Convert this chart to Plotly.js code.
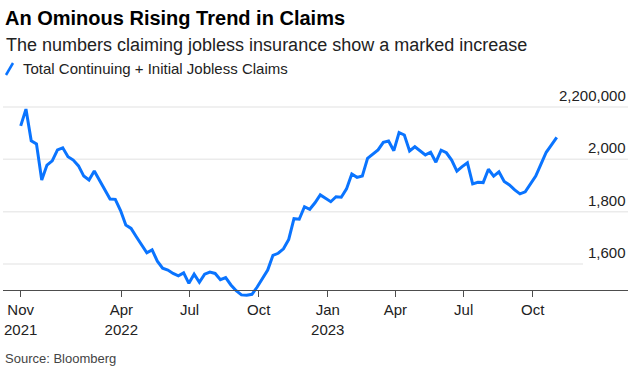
<!DOCTYPE html>
<html>
<head>
<meta charset="utf-8">
<script src="https://cdn.plot.ly/plotly-3.0.1.min.js"></script>
<style>html,body{margin:0;padding:0;background:#fff;}#chart{width:640px;height:378px;}</style>
</head>
<body>
<div id="chart"></div>
<script>
// ---- Data ----
const startDate = '2021-11-18';   // first weekly observation (Thursday)
const claims = [
  2128000, 2192000, 2071000, 2059000, 1921000, 1978000, 1994000, 2036000, 2044000, 2010000,
  1997000, 1975000, 1936000, 1921000, 1955000, 1921000, 1883000, 1848000, 1847000, 1804000,
  1749000, 1736000, 1704000, 1673000, 1643000, 1654000, 1611000, 1584000, 1577000, 1564000,
  1555000, 1566000, 1526000, 1561000, 1530000, 1561000, 1569000, 1564000, 1540000, 1548000,
  1520000, 1498000, 1482000, 1481000, 1484000, 1512000, 1543000, 1577000, 1633000, 1641000,
  1658000, 1694000, 1773000, 1771000, 1819000, 1809000, 1834000, 1864000, 1851000, 1838000,
  1857000, 1855000, 1887000, 1944000, 1931000, 1936000, 2004000, 2019000, 2036000, 2065000,
  2070000, 2033000, 2102000, 2093000, 2032000, 2048000, 2033000, 2017000, 2027000, 1989000,
  2035000, 2025000, 1997000, 1955000, 1972000, 1987000, 1906000, 1912000, 1911000, 1962000,
  1936000, 1952000, 1915000, 1902000, 1883000, 1868000, 1876000, 1908000, 1936000, 1982000,
  2027000, 2055000, 2084000
];
const seriesName = 'Total Continuing + Initial Jobless Claims';
const tickDates = ['2021-11-18','2022-04-01','2022-07-01','2022-10-01','2023-01-01','2023-04-01','2023-07-01','2023-10-01'];
const tickLabels = ['Nov<br>2021','Apr<br>2022','Jul','Oct','Jan<br>2023','Apr','Jul','Oct'];
const yTickVals = [1600000, 1800000, 2000000, 2200000];
const yTickLabels = ['1,600', '1,800', '2,000', '2,200,000'];
const titleText = 'An Ominous Rising Trend in Claims';
const subtitleText = 'The numbers claiming jobless insurance show a marked increase';
const sourceText = 'Source: Bloomberg';

// build weekly dates
const dates = [];
{
  const d0 = new Date(startDate + 'T00:00:00Z');
  for (let i = 0; i < claims.length; i++) {
    const d = new Date(d0.getTime() + i * 7 * 86400000);
    dates.push(d.toISOString().slice(0, 10));
  }
}

// ---- Layout geometry ----
const W = 640, H = 378;
const M = {l: 3, r: 12, t: 91, b: 77};
const plotW = W - M.l - M.r, plotH = H - M.t - M.b;
const yRange = [1458600, 2261100];
const axisVal = 1500000;
const px2paperX = px => (px - M.l) / plotW;
const px2paperY = py => (H - M.b - py) / plotH;
const FONT = 'Liberation Sans, Arial, sans-serif';
const BLUE = '#0a74ff';

const shapes = [];
yTickVals.forEach((v, i) => {
  shapes.push({type: 'line', xref: 'paper', yref: 'y', x0: 0, x1: (v === 1600000 ? px2paperX(583) : 1),
    y0: v, y1: v, line: {color: '#ebebeb', width: 1.5}, layer: 'below'});
});
// legend slash icon
shapes.push({type: 'line', xref: 'paper', yref: 'paper',
  x0: px2paperX(6), y0: px2paperY(75), x1: px2paperX(13), y1: px2paperY(63),
  line: {color: BLUE, width: 2.5}});

const annotations = [];
yTickVals.forEach((v, i) => {
  annotations.push({xref: 'paper', yref: 'y', x: 1, y: v, xanchor: 'right', yanchor: 'bottom',
    yshift: 1, text: yTickLabels[i], showarrow: false, font: {family: FONT, size: 15, color: '#222'}});
});
annotations.push({xref: 'paper', yref: 'paper', x: px2paperX(4), y: px2paperY(45), xanchor: 'left', yanchor: 'middle',
  text: subtitleText, showarrow: false, font: {family: FONT, size: 18, color: '#222'}});
annotations.push({xref: 'paper', yref: 'paper', x: px2paperX(21), y: px2paperY(69), xanchor: 'left', yanchor: 'middle',
  text: seriesName, showarrow: false, font: {family: FONT, size: 15, color: '#222'}});
annotations.push({xref: 'paper', yref: 'paper', x: px2paperX(3), y: px2paperY(358), xanchor: 'left', yanchor: 'middle',
  text: sourceText, showarrow: false, font: {family: FONT, size: 13, color: '#444'}});

const trace = {
  x: dates, y: claims, type: 'scatter', mode: 'lines', name: seriesName,
  line: {color: BLUE, width: 3}, hoverinfo: 'skip'
};

const layout = {
  width: W, height: H,
  margin: {l: M.l, r: M.r, t: M.t, b: M.b, pad: 0, autoexpand: false},
  paper_bgcolor: '#fff', plot_bgcolor: '#fff',
  showlegend: false,
  title: {text: '<b>' + titleText + '</b>', xref: 'container', yref: 'container',
    x: 5 / W, xanchor: 'left', y: 1 - 18 / H, yanchor: 'middle',
    font: {family: FONT, size: 20, color: '#000'}},
  xaxis: {
    type: 'date', range: ['2021-10-25 10:00', '2024-02-04 22:00'],
    anchor: 'free', position: (axisVal - yRange[0]) / (yRange[1] - yRange[0]),
    tickmode: 'array', tickvals: tickDates, ticktext: tickLabels,
    showline: true, linecolor: '#4d4d4d', linewidth: 1.3,
    ticks: 'outside', ticklen: 6, tickwidth: 1.3, tickcolor: '#4d4d4d',
    showgrid: false, zeroline: false,
    tickfont: {family: FONT, size: 15, color: '#222'}
  },
  yaxis: {
    range: yRange, showgrid: false, zeroline: false, showline: false,
    showticklabels: false, ticks: ''
  },
  shapes: shapes,
  annotations: annotations
};

Plotly.newPlot('chart', [trace], layout, {staticPlot: true, displayModeBar: false});
</script>
</body>
</html>
